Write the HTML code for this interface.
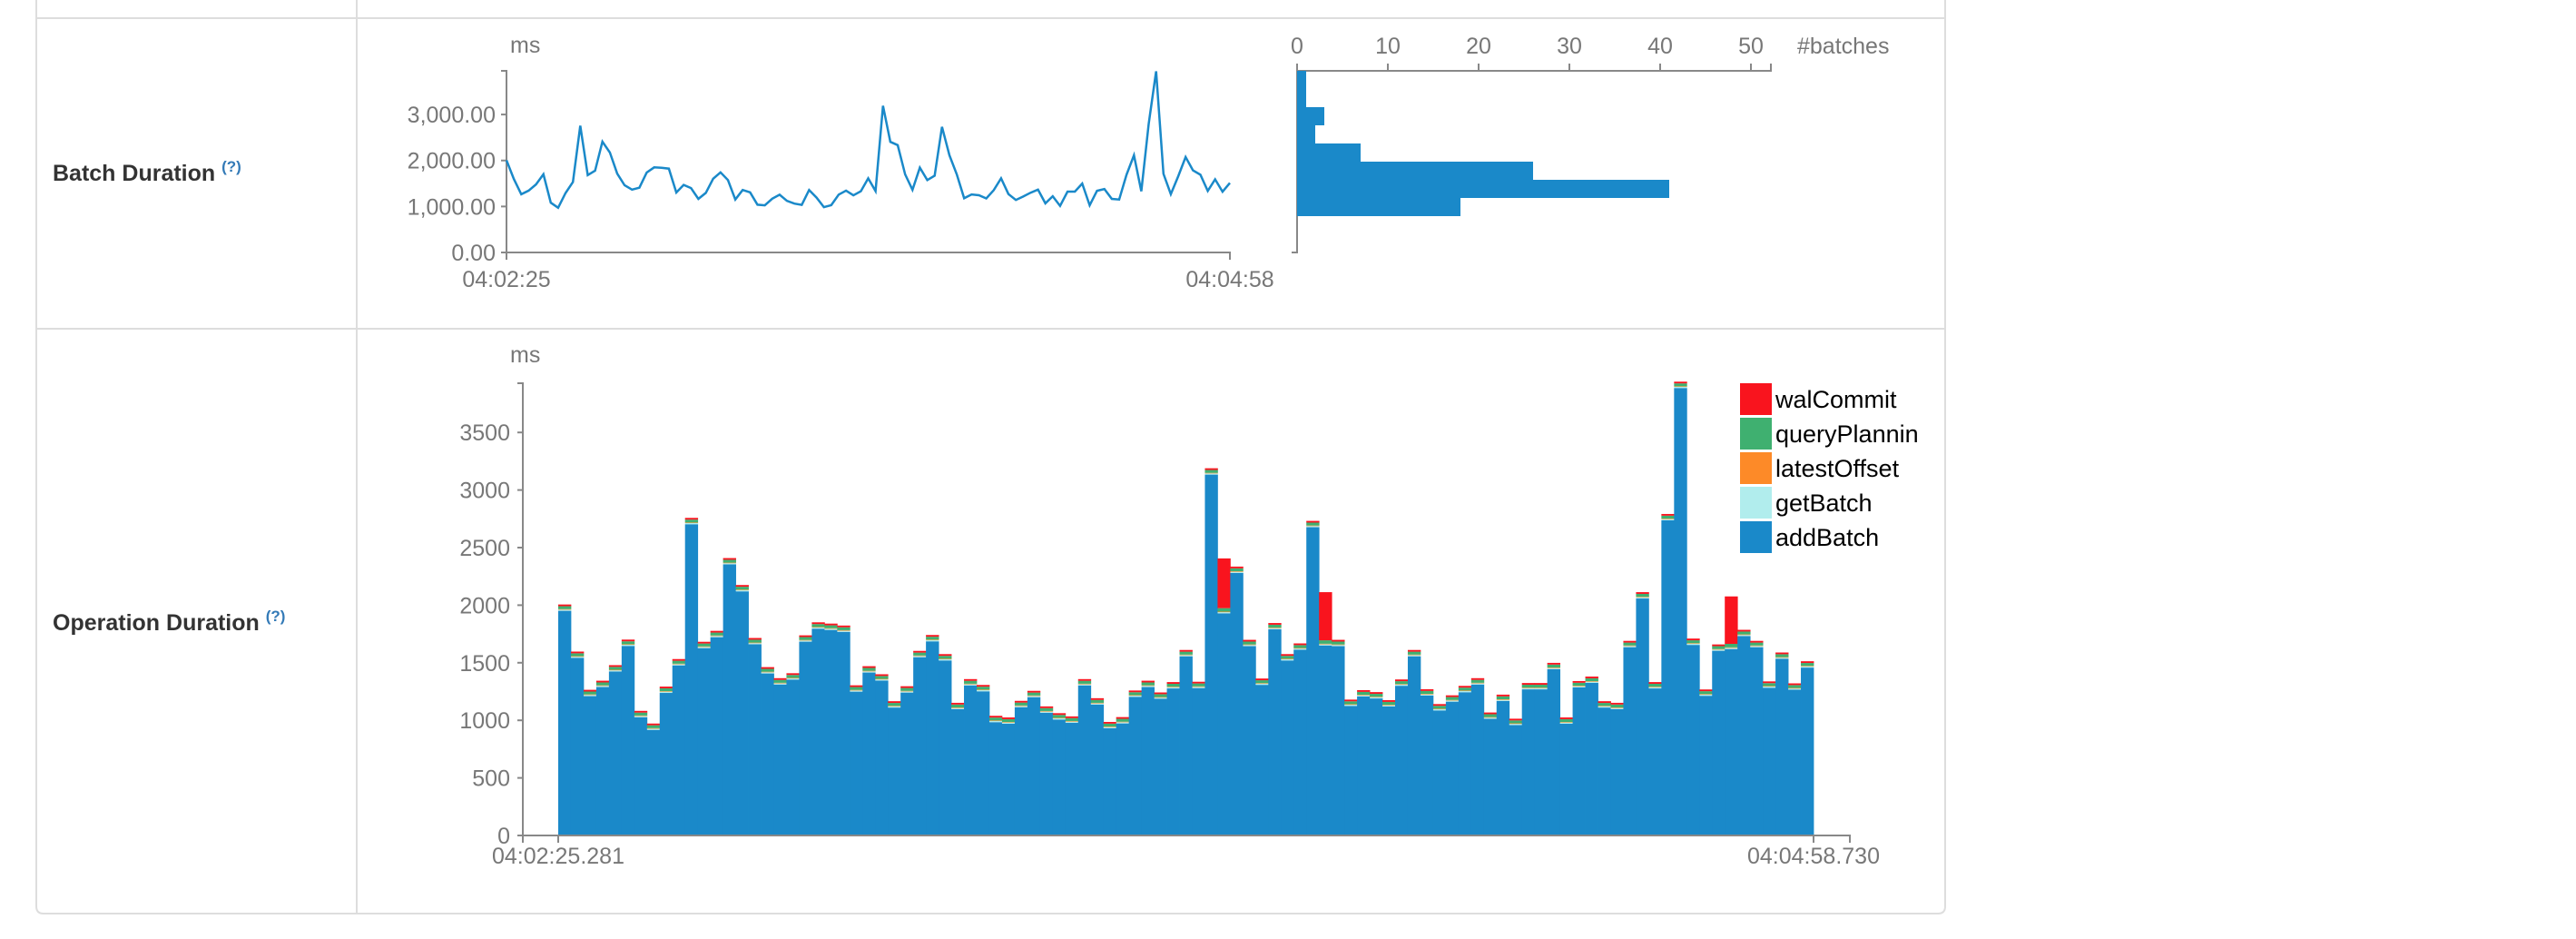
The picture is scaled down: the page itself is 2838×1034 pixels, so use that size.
<!DOCTYPE html>
<html><head><meta charset="utf-8"><style>
body{margin:0;background:#fff;width:2838px;height:1034px;overflow:hidden}
svg{display:block;font-family:"Liberation Sans",sans-serif}
</style></head><body>
<svg id="s" width="2838" height="1034">
<g fill="none" stroke="#ddd" stroke-width="2">
<path d="M40,0 V998 Q40,1006 48,1006 H2135 Q2143,1006 2143,998 V0"/>
<line x1="40" y1="20" x2="2143" y2="20"/>
<line x1="40" y1="362" x2="2143" y2="362"/>
<line x1="393" y1="0" x2="393" y2="1006"/>
</g>
<text x="58" y="199" font-size="25" font-weight="bold" fill="#333">Batch Duration <tspan font-size="17" dy="-10" fill="#337ab7">(?)</tspan></text>
<text x="58" y="694" font-size="25" font-weight="bold" fill="#333">Operation Duration <tspan font-size="17" dy="-10" fill="#337ab7">(?)</tspan></text>
<g id="line"></g>
<g id="hist"></g>
<g id="ops"></g>
</svg>
<script>
const batchDuration=[2006,1597,1265,1344,1479,1701,1082,972,1293,1532,2758,1682,1777,2409,2175,1715,1462,1366,1409,1738,1851,1840,1823,1304,1470,1400,1166,1296,1603,1741,1575,1152,1358,1307,1039,1025,1169,1256,1121,1062,1034,1358,1192,986,1028,1259,1344,1242,1332,1611,1335,3189,2406,2335,1699,1363,1845,1575,1668,2732,2113,1699,1180,1262,1245,1175,1355,1611,1270,1141,1217,1299,1366,1068,1223,1014,1324,1324,1499,1025,1341,1380,1166,1152,1690,2113,1332,2792,3941,1710,1268,1659,2076,1786,1690,1338,1589,1321,1513];
const addBatch=[1951,1542,1210,1289,1424,1646,1027,917,1238,1477,2703,1627,1722,2354,2120,1660,1407,1311,1354,1683,1796,1785,1768,1249,1415,1345,1111,1241,1548,1686,1520,1097,1303,1252,984,970,1114,1201,1066,1007,979,1303,1137,931,973,1204,1289,1187,1277,1556,1280,3134,1929,2280,1644,1308,1790,1520,1613,2677,1650,1644,1125,1207,1190,1120,1300,1556,1215,1086,1162,1244,1311,1013,1168,959,1269,1269,1444,970,1286,1325,1111,1097,1635,2058,1277,2737,3886,1655,1213,1604,1619,1731,1635,1283,1534,1266,1458];
const getBatch=Array(99).fill(10);
const latestOffset=Array(99).fill(5);
const queryPlanning=[25,25,25,25,25,25,25,25,25,25,25,25,25,25,25,25,25,25,25,25,25,25,25,25,25,25,25,25,25,25,25,25,25,25,25,25,25,25,25,25,25,25,25,25,25,25,25,25,25,25,25,25,30,25,25,25,25,25,25,25,30,25,25,25,25,25,25,25,25,25,25,25,25,25,25,25,25,25,25,25,25,25,25,25,25,25,25,25,25,25,25,25,30,25,25,25,25,25,25];
const walCommit=[15,15,15,15,15,15,15,15,15,15,15,15,15,15,15,15,15,15,15,15,15,15,15,15,15,15,15,15,15,15,15,15,15,15,15,15,15,15,15,15,15,15,15,15,15,15,15,15,15,15,15,15,432,15,15,15,15,15,15,15,418,15,15,15,15,15,15,15,15,15,15,15,15,15,15,15,15,15,15,15,15,15,15,15,15,15,15,15,15,15,15,15,412,15,15,15,15,15,15];
const histCounts=[18,41,26,7,2,3,1,1];
const lineTicks=[0,1000,2000,3000];
const lineTickLabels=["0.00","1,000.00","2,000.00","3,000.00"];
const opTicks=[0,500,1000,1500,2000,2500,3000,3500];
const histTicks=[0,10,20,30,40,50];
const seriesNames=["walCommit","queryPlanning","latestOffset","getBatch","addBatch"];
const seriesColors=["#f9141e","#3fb070","#fd8a28","#b1eded","#1a89c9"];
const NS="http://www.w3.org/2000/svg";
function mk(p,tag,at,txt){const e=document.createElementNS(NS,tag);for(const k in at)e.setAttribute(k,at[k]);if(txt!=null)e.textContent=txt;p.appendChild(e);return e;}
const AX="#888";
// line chart
const L=document.getElementById('line');
const lx0=558,lx1=1355,ly0=278,ly1=78,ymax=3950;
const lX=i=>lx0+i*(lx1-lx0)/(batchDuration.length-1);
const lY=v=>ly0-v*(ly0-ly1)/ymax;
let t=mk(L,'text',{x:562,y:58,'font-size':25,fill:'#777'},'ms');


let a=mk(L,'path',{d:`M552,${ly1}H558V${ly0}H${lx1}V${ly0+8}`,fill:'none',stroke:AX,'stroke-width':2});


lineTicks.forEach((v,i)=>{mk(L,'line',{x1:552,x2:558,y1:lY(v),y2:lY(v),stroke:AX,'stroke-width':2});
 const tx=mk(L,'text',{x:546,y:lY(v)+9,'font-size':25,fill:'#777','text-anchor':'end'},lineTickLabels[i]);
 
 });
mk(L,'line',{x1:lx0,x2:lx0,y1:ly0,y2:ly0+8,stroke:AX,'stroke-width':2});
t=mk(L,'text',{x:lx0,y:316,'font-size':25,fill:'#777','text-anchor':'middle'},'04:02:25');


t=mk(L,'text',{x:lx1,y:316,'font-size':25,fill:'#777','text-anchor':'middle'},'04:04:58');


let p=mk(L,'path',{d:batchDuration.map((v,i)=>(i?'L':'M')+lX(i).toFixed(1)+','+lY(v).toFixed(1)).join(''),fill:'none',stroke:'#1a89c9','stroke-width':2.5});


// histogram
const H=document.getElementById('hist');
const hx0=1429,hu=10,hb0=238,hbh=20;
a=mk(H,'path',{d:`M1423,${ly0}H${hx0}V${ly1}H1951V${ly1-8}`,fill:'none',stroke:AX,'stroke-width':2});


histTicks.forEach(v=>{mk(H,'line',{x1:hx0+v*hu,x2:hx0+v*hu,y1:ly1,y2:ly1-8,stroke:AX,'stroke-width':2});
 const tx=mk(H,'text',{x:hx0+v*hu,y:59,'font-size':25,fill:'#777','text-anchor':'middle'},String(v));
 
 });
t=mk(H,'text',{x:1980,y:59,'font-size':25,fill:'#777'},'#batches');


histCounts.forEach((c,i)=>{const r=mk(H,'rect',{x:hx0,y:hb0-(i+1)*hbh,width:c*hu,height:hbh,fill:'#1a89c9'});
 
 });
// operation chart
const O=document.getElementById('ops');
const ox0=576,ox1=2038,bx0=615,bx1=1998,oy0=920,k=0.1268,n=addBatch.length,bw=(bx1-bx0)/n;
const oY=v=>oy0-v*k;
t=mk(O,'text',{x:562,y:399,'font-size':25,fill:'#777'},'ms');


const stack=[addBatch,getBatch,latestOffset,queryPlanning,walCommit];
const cols=["#1a89c9","#b1eded","#fd8a28","#3fb070","#f9141e"];
for(let i=0;i<n;i++){let base=0;stack.forEach((s,j)=>{const v=s[i];const r=mk(O,'rect',{x:(bx0+i*bw).toFixed(2),y:oY(base+v).toFixed(2),width:(bw+0.4).toFixed(2),height:(v*k).toFixed(2),fill:cols[j]});
 
 
 base+=v;});}
a=mk(O,'path',{d:`M570,422H${ox0}V${oy0}H${ox1}V${oy0+8}M${ox0},${oy0}V${oy0+8}`,fill:'none',stroke:AX,'stroke-width':2});


opTicks.forEach(v=>{mk(O,'line',{x1:570,x2:576,y1:oY(v),y2:oY(v),stroke:AX,'stroke-width':2});
 const tx=mk(O,'text',{x:562,y:oY(v)+9,'font-size':25,fill:'#777','text-anchor':'end'},String(v));
 
 });
[bx0,bx1].forEach(x=>mk(O,'line',{x1:x,x2:x,y1:oy0,y2:oy0+8,stroke:AX,'stroke-width':2}));
t=mk(O,'text',{x:bx0,y:951,'font-size':25,fill:'#777','text-anchor':'middle'},'04:02:25.281');


t=mk(O,'text',{x:bx1,y:951,'font-size':25,fill:'#777','text-anchor':'middle'},'04:04:58.730');


const clip=mk(O,'clipPath',{id:'lc'});mk(clip,'rect',{x:1900,y:400,width:212,height:220});
const lg=mk(O,'g',{'clip-path':'url(#lc)'});


seriesNames.forEach((nm,i)=>{const y=422+i*38;
 const r=mk(lg,'rect',{x:1917,y:y,width:35,height:35,fill:seriesColors[i]});
 
 
 const tx=mk(lg,'text',{x:1956,y:y+27,'font-size':27,fill:'#000'},nm);
 
 });
</script>
</body></html>
